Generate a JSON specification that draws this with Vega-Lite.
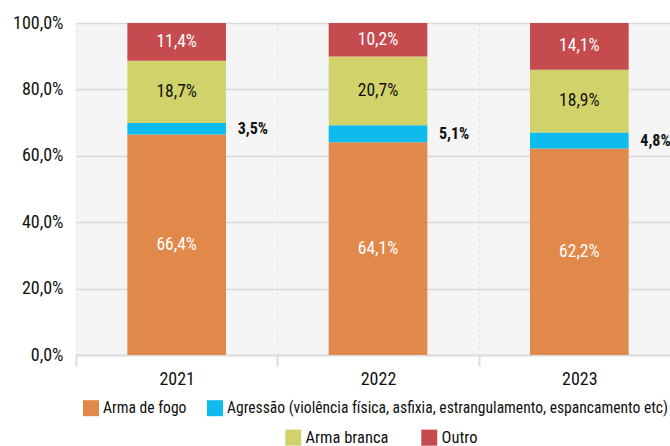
{
  "$schema": "https://vega.github.io/schema/vega-lite/v6.json",
  "width": 604,
  "height": 332,
  "autosize": "none",
  "padding": {"left": 76, "top": 23, "right": 0, "bottom": 91},
  "background": "white",
  "config": {
    "view": {"fill": "#f5f5f5", "stroke": null},
    "font": "Roboto Condensed, Liberation Sans Narrow, Roboto, sans-serif",
    "legend": {"labelFont": "Roboto Condensed, Liberation Sans Narrow, Roboto, sans-serif"}
  },
  "data": {
    "values": [
      {"year": "2021", "cat": "Arma de fogo", "k": 1, "value": 66.4, "label": "66,4%"},
      {"year": "2021", "cat": "Agressão (violência física, asfixia, estrangulamento, espancamento etc)", "k": 2, "value": 3.5, "label": "3,5%"},
      {"year": "2021", "cat": "Arma branca", "k": 3, "value": 18.7, "label": "18,7%"},
      {"year": "2021", "cat": "Outro", "k": 4, "value": 11.4, "label": "11,4%"},
      {"year": "2022", "cat": "Arma de fogo", "k": 1, "value": 64.1, "label": "64,1%"},
      {"year": "2022", "cat": "Agressão (violência física, asfixia, estrangulamento, espancamento etc)", "k": 2, "value": 5.1, "label": "5,1%"},
      {"year": "2022", "cat": "Arma branca", "k": 3, "value": 20.7, "label": "20,7%"},
      {"year": "2022", "cat": "Outro", "k": 4, "value": 10.2, "label": "10,2%"},
      {"year": "2023", "cat": "Arma de fogo", "k": 1, "value": 62.2, "label": "62,2%"},
      {"year": "2023", "cat": "Agressão (violência física, asfixia, estrangulamento, espancamento etc)", "k": 2, "value": 4.8, "label": "4,8%"},
      {"year": "2023", "cat": "Arma branca", "k": 3, "value": 18.9, "label": "18,9%"},
      {"year": "2023", "cat": "Outro", "k": 4, "value": 14.1, "label": "14,1%"}
    ]
  },
  "encoding": {
    "x": {
      "field": "year",
      "type": "nominal",
      "scale": {"paddingInner": 0, "paddingOuter": 0},
      "axis": {
        "title": null,
        "labelAngle": 0,
        "labelFontSize": 18,
        "labelColor": "#111111",
        "labelPadding": 4,
        "tickBand": "extent",
        "tickColor": "#dddddd",
        "tickWidth": 2,
        "tickSize": 11,
        "domainColor": "#dddddd",
        "domainWidth": 2,
        "grid": true,
        "gridColor": "#dcdcdc",
        "gridDash": [2, 4],
        "gridWidth": 1
      }
    }
  },
  "layer": [
    {
      "mark": {"type": "bar", "width": {"band": 0.49}, "strokeWidth": 0, "clip": true},
      "encoding": {
        "y": {
          "field": "value",
          "type": "quantitative",
          "stack": "zero",
          "title": null,
          "scale": {"domain": [0, 100], "nice": false},
          "axis": {
            "title": null,
            "values": [0, 20, 40, 60, 80, 100],
            "labelExpr": "replace(format(datum.value, '.1f'), '.', ',') + '%'",
            "labelFontSize": 18,
            "labelColor": "#111111",
            "labelPadding": 13,
            "ticks": false,
            "domain": false,
            "gridColor": "#d9d9d9",
            "gridWidth": 1.5
          }
        },
        "order": {"field": "k", "type": "quantitative"},
        "fill": {
          "field": "cat",
          "type": "nominal",
          "scale": {
            "domain": ["Arma de fogo", "Agressão (violência física, asfixia, estrangulamento, espancamento etc)", "Arma branca", "Outro"],
            "range": ["#e0894b", "#0dbbec", "#d1d36a", "#c64b4f"]
          },
          "legend": {
            "title": null,
            "values": ["Arma de fogo", "Agressão (violência física, asfixia, estrangulamento, espancamento etc)"],
            "orient": "none",
            "direction": "horizontal",
            "legendX": 7,
            "legendY": 377,
            "padding": 0,
            "symbolType": "square",
            "symbolSize": 256,
            "symbolStrokeWidth": 0,
            "labelFontSize": 15.6,
            "labelColor": "#111111",
            "labelOffset": 4,
            "labelLimit": 0,
            "columnPadding": 20
          }
        },
        "stroke": {
          "field": "cat",
          "type": "nominal",
          "scale": {
            "domain": ["Arma branca", "Outro", "Arma de fogo", "Agressão (violência física, asfixia, estrangulamento, espancamento etc)"],
            "range": ["#d1d36a", "#c64b4f", "#e0894b", "#0dbbec"]
          },
          "legend": {
            "title": null,
            "values": ["Arma branca", "Outro"],
            "orient": "none",
            "direction": "horizontal",
            "legendX": 209,
            "legendY": 406,
            "padding": 0,
            "symbolType": "square",
            "symbolSize": 64,
            "symbolStrokeWidth": 8,
            "labelFontSize": 16.5,
            "labelColor": "#111111",
            "labelOffset": 4,
            "labelLimit": 0,
            "columnPadding": 20
          }
        }
      }
    },
    {
      "transform": [
        {"stack": "value", "groupby": ["year"], "sort": [{"field": "k"}], "as": ["v0", "v1"]},
        {"calculate": "(datum.v0 + datum.v1) / 2", "as": "mid"},
        {"filter": "datum.k != 2"}
      ],
      "mark": {"type": "text", "fontSize": 17.5, "baseline": "middle"},
      "encoding": {
        "y": {"field": "mid", "type": "quantitative", "title": null},
        "text": {"field": "label"},
        "color": {"condition": {"test": "datum.k == 1 || datum.k == 4", "value": "#ffffff"}, "value": "#111111"},
        "fontWeight": {"condition": {"test": "datum.k == 3", "value": "bold"}, "value": "normal"}
      }
    },
    {
      "transform": [
        {"stack": "value", "groupby": ["year"], "sort": [{"field": "k"}], "as": ["v0", "v1"]},
        {"calculate": "(datum.v0 + datum.v1) / 2", "as": "mid"},
        {"filter": "datum.k == 2"}
      ],
      "mark": {"type": "text", "fontSize": 16, "fontWeight": "bold", "baseline": "middle", "align": "left", "dx": 61, "color": "#111111"},
      "encoding": {
        "y": {"field": "mid", "type": "quantitative", "title": null},
        "text": {"field": "label"}
      }
    }
  ]
}
